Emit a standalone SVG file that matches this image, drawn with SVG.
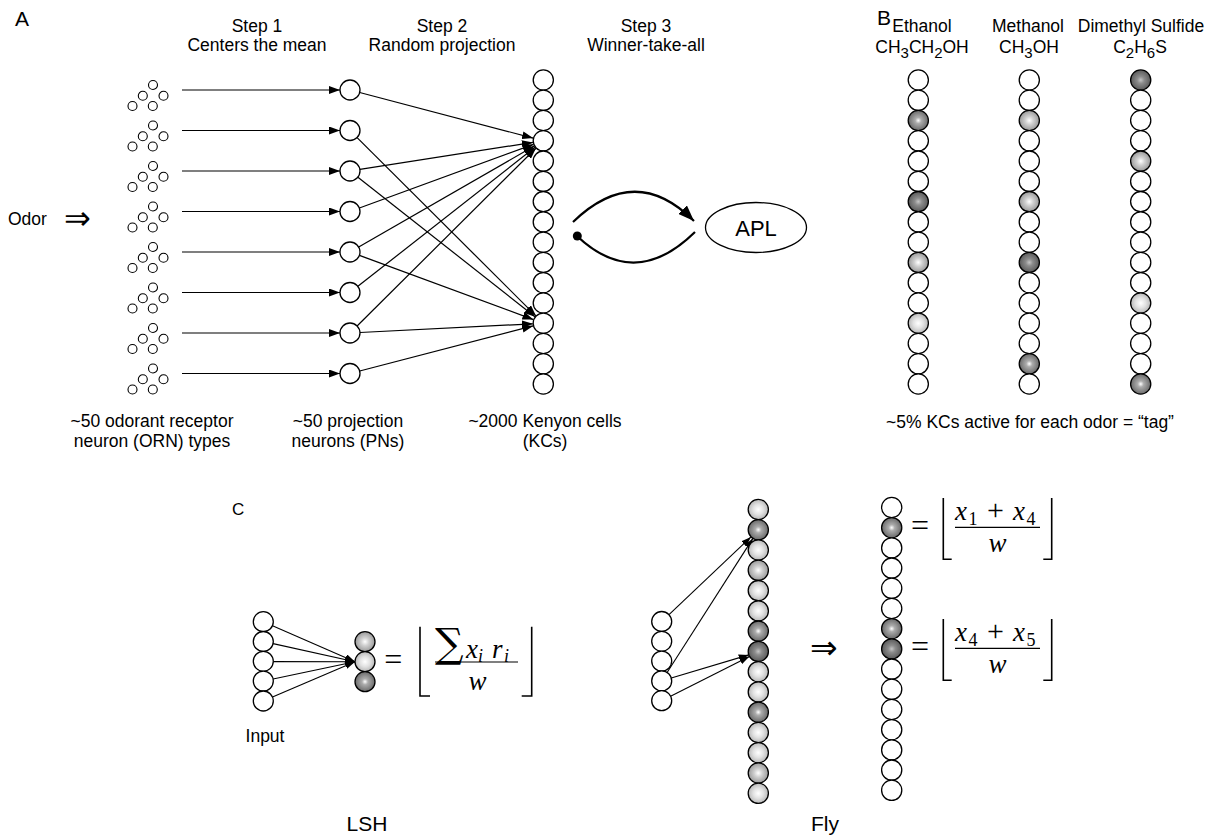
<svg xmlns="http://www.w3.org/2000/svg" width="1211" height="837" viewBox="0 0 1211 837">
<style>
.t{font-family:"Liberation Sans",Arial,sans-serif;font-size:17.5px;fill:#000}
.lbl{font-family:"Liberation Sans",Arial,sans-serif;font-size:21px;fill:#000}
.sym{font-family:"DejaVu Sans",sans-serif;fill:#000}
.m{font-family:"Liberation Serif","DejaVu Serif",serif;font-style:italic;font-size:27px;fill:#000}
.mr{font-family:"Liberation Serif","DejaVu Serif",serif;font-style:normal;fill:#000}
.c{fill:#fff;stroke:#000;stroke-width:1.3}
.s{fill:#fff;stroke:#000;stroke-width:1.1}
.gd{fill:url(#gDark)}
.gm{fill:url(#gMed)}
.gl{fill:url(#gLight)}
.gv{fill:url(#gVLight)}
.ln{stroke:#000;stroke-width:1.2;fill:none}
.br{stroke:#000;stroke-width:1.6;fill:none}
</style>
<defs>
<radialGradient id="gDark" cx="50%" cy="50%" r="50%"><stop offset="0" stop-color="#c4c4c4"/><stop offset="0.35" stop-color="#8c8c8c"/><stop offset="1" stop-color="#5a5a5a"/></radialGradient>
<radialGradient id="gMed" cx="50%" cy="50%" r="50%"><stop offset="0" stop-color="#ffffff"/><stop offset="0.3" stop-color="#acacac"/><stop offset="1" stop-color="#6a6a6a"/></radialGradient>
<radialGradient id="gLight" cx="50%" cy="50%" r="50%"><stop offset="0" stop-color="#ffffff"/><stop offset="0.4" stop-color="#d0d0d0"/><stop offset="1" stop-color="#9a9a9a"/></radialGradient>
<radialGradient id="gVLight" cx="50%" cy="50%" r="50%"><stop offset="0" stop-color="#ffffff"/><stop offset="0.5" stop-color="#e2e2e2"/><stop offset="1" stop-color="#b8b8b8"/></radialGradient>
<marker id="arr" markerUnits="userSpaceOnUse" markerWidth="11" markerHeight="8" viewBox="0 0 11 8" refX="11" refY="4" orient="auto"><path d="M0,0 L11,4 L0,8 z" fill="#000"/></marker>
<marker id="arrS" markerUnits="userSpaceOnUse" markerWidth="10" markerHeight="7" viewBox="0 0 10 7" refX="10" refY="3.5" orient="auto"><path d="M0,0 L10,3.5 L0,7 z" fill="#000"/></marker>
<marker id="arrB" markerUnits="userSpaceOnUse" markerWidth="16" markerHeight="12" viewBox="0 0 16 12" refX="16" refY="6" orient="auto"><path d="M0,0 L16,6 L0,12 z" fill="#000"/></marker>
<g id="orn">
<circle class="s" cx="153" cy="-5" r="4.5"/><circle class="s" cx="142.8" cy="5.7" r="4.5"/><circle class="s" cx="163.5" cy="5.7" r="4.5"/><circle class="s" cx="132.5" cy="16" r="4.5"/><circle class="s" cx="152.8" cy="16" r="4.5"/>
</g>
</defs>
<rect width="1211" height="837" fill="#fff"/>

<!-- Panel labels -->
<text class="lbl" x="15" y="26">A</text>
<text class="lbl" x="877" y="25">B</text>
<text class="lbl" x="232" y="515" style="font-size:17px">C</text>

<!-- Panel A texts -->
<g id="step-labels" class="t" text-anchor="middle">
<text x="257" y="32">Step 1</text><text x="257" y="51">Centers the mean</text>
<text x="442" y="32">Step 2</text><text x="442" y="51">Random projection</text>
<text x="646" y="32">Step 3</text><text x="646" y="51">Winner-take-all</text>
</g>
<g id="odor">
<text class="t" x="8" y="225">Odor</text>
<text class="sym" x="64" y="228.5" style="font-size:32px">⇒</text>
</g>

<!-- ORN clusters -->
<g id="orn-types">
<use href="#orn" y="90"/><use href="#orn" y="130.5"/><use href="#orn" y="171"/><use href="#orn" y="211.5"/>
<use href="#orn" y="252"/><use href="#orn" y="292.5"/><use href="#orn" y="333"/><use href="#orn" y="373.5"/>
</g>

<!-- Connectors -->
<g id="connectors">
<g class="ln" marker-end="url(#arr)">
<line x1="182" y1="90" x2="340" y2="90"/>
<line x1="182" y1="130.5" x2="340" y2="130.5"/>
<line x1="182" y1="171" x2="340" y2="171"/>
<line x1="182" y1="211.5" x2="340" y2="211.5"/>
<line x1="182" y1="252" x2="340" y2="252"/>
<line x1="182" y1="292.5" x2="340" y2="292.5"/>
<line x1="182" y1="333" x2="340" y2="333"/>
<line x1="182" y1="373.5" x2="340" y2="373.5"/>
<line x1="359.7" y1="92.5" x2="533.1" y2="138.1"/>
<line x1="359.9" y1="169.4" x2="532.9" y2="142.4"/>
<line x1="359.4" y1="208" x2="533.4" y2="144.4"/>
<line x1="358.7" y1="247" x2="534.2" y2="146.1"/>
<line x1="357.9" y1="286.3" x2="535" y2="147.3"/>
<line x1="357.1" y1="326" x2="535.9" y2="148.2"/>
<line x1="357.1" y1="137.6" x2="535.9" y2="315.8"/>
<line x1="357.9" y1="177.2" x2="535" y2="316.7"/>
<line x1="359.4" y1="255.4" x2="533.4" y2="319.6"/>
<line x1="360" y1="332.5" x2="532.8" y2="323.8"/>
<line x1="359.7" y1="371" x2="533.1" y2="325.9"/>
</g>
<path class="ln" style="stroke-width:2.2" d="M573,222 Q635,162 694,221" marker-end="url(#arrB)"/>
<path class="ln" style="stroke-width:2.2" d="M577,236 Q635,291 695,232"/>
<circle cx="577.3" cy="236" r="4.5" fill="#000"/>
<g class="ln" marker-end="url(#arrS)" style="stroke-width:1.1">
<line x1="272.5" y1="625.7" x2="355" y2="661.7"/>
<line x1="273.1" y1="643.6" x2="355" y2="661.7"/>
<line x1="273.3" y1="661.6" x2="355" y2="661.7"/>
<line x1="273.1" y1="679" x2="355" y2="661.7"/>
<line x1="272.5" y1="697.1" x2="355" y2="661.7"/>
</g>
<g class="ln" marker-end="url(#arrS)" style="stroke-width:1.1">
<line x1="669" y1="614.6" x2="751" y2="536.9"/>
<line x1="667.1" y1="672.5" x2="752.9" y2="538.4"/>
<line x1="671.3" y1="678" x2="748.7" y2="654.9"/>
<line x1="670.6" y1="696.2" x2="749.4" y2="656.5"/>
</g>
</g>

<!-- PNs -->
<g id="pns">
<g id="pn-1"><circle class="c" cx="350" cy="90" r="10"/></g>
<g id="pn-2"><circle class="c" cx="350" cy="130.5" r="10"/></g>
<g id="pn-3"><circle class="c" cx="350" cy="171" r="10"/></g>
<g id="pn-4"><circle class="c" cx="350" cy="211.5" r="10"/></g>
<g id="pn-5"><circle class="c" cx="350" cy="252" r="10"/></g>
<g id="pn-6"><circle class="c" cx="350" cy="292.5" r="10"/></g>
<g id="pn-7"><circle class="c" cx="350" cy="333" r="10"/></g>
<g id="pn-8"><circle class="c" cx="350" cy="373.5" r="10"/></g>
</g>

<!-- KC column A -->
<g id="kcs-a">
<circle class="c" cx="543.3" cy="80" r="10.1"/><circle class="c" cx="543.3" cy="100.3" r="10.1"/><circle class="c" cx="543.3" cy="120.5" r="10.1"/><circle class="c" cx="543.3" cy="140.8" r="10.1"/>
<circle class="c" cx="543.3" cy="161.1" r="10.1"/><circle class="c" cx="543.3" cy="181.4" r="10.1"/><circle class="c" cx="543.3" cy="201.6" r="10.1"/><circle class="c" cx="543.3" cy="221.9" r="10.1"/>
<circle class="c" cx="543.3" cy="242.2" r="10.1"/><circle class="c" cx="543.3" cy="262.4" r="10.1"/><circle class="c" cx="543.3" cy="282.7" r="10.1"/><circle class="c" cx="543.3" cy="303" r="10.1"/>
<circle class="c" cx="543.3" cy="323.2" r="10.1"/><circle class="c" cx="543.3" cy="343.5" r="10.1"/><circle class="c" cx="543.3" cy="363.8" r="10.1"/><circle class="c" cx="543.3" cy="384" r="10.1"/>
</g>

<g id="apl">
<ellipse cx="756" cy="227.5" rx="50.5" ry="25" fill="#fff" stroke="#000" stroke-width="1.3"/>
<text class="t" x="756" y="236" text-anchor="middle" style="font-size:22px">APL</text>
</g>

<g id="a-bottom-labels" class="t" text-anchor="middle">
<text x="152" y="427">~50 odorant receptor</text><text x="152" y="447">neuron (ORN) types</text>
<text x="348" y="427">~50 projection</text><text x="348" y="447">neurons (PNs)</text>
<text x="545" y="427">~2000 Kenyon cells</text><text x="545" y="447">(KCs)</text>
</g>

<!-- Panel B -->
<g id="b-labels" class="t" text-anchor="middle">
<text x="922" y="32">Ethanol</text>
<text x="922" y="53">CH<tspan dy="5" style="font-size:15px">3</tspan><tspan dy="-5">CH</tspan><tspan dy="5" style="font-size:15px">2</tspan><tspan dy="-5">OH</tspan></text>
<text x="1028" y="32">Methanol</text>
<text x="1029" y="53">CH<tspan dy="5" style="font-size:15px">3</tspan><tspan dy="-5">OH</tspan></text>
<text x="1141" y="32">Dimethyl Sulfide</text>
<text x="1140" y="53">C<tspan dy="5" style="font-size:15px">2</tspan><tspan dy="-5">H</tspan><tspan dy="5" style="font-size:15px">6</tspan><tspan dy="-5">S</tspan></text>
<text x="1030" y="428">~5% KCs active for each odor = “tag”</text>
</g>
<g id="ethanol-kcs">
<circle class="c" cx="918.3" cy="80" r="10.1"/><circle class="c" cx="918.3" cy="100.3" r="10.1"/><circle class="c gm" cx="918.3" cy="120.5" r="10.1"/><circle class="c" cx="918.3" cy="140.8" r="10.1"/>
<circle class="c" cx="918.3" cy="161.1" r="10.1"/><circle class="c" cx="918.3" cy="181.4" r="10.1"/><circle class="c gd" cx="918.3" cy="201.6" r="10.1"/><circle class="c" cx="918.3" cy="221.9" r="10.1"/>
<circle class="c" cx="918.3" cy="242.2" r="10.1"/><circle class="c gl" cx="918.3" cy="262.4" r="10.1"/><circle class="c" cx="918.3" cy="282.7" r="10.1"/><circle class="c" cx="918.3" cy="303" r="10.1"/>
<circle class="c gv" cx="918.3" cy="323.2" r="10.1"/><circle class="c" cx="918.3" cy="343.5" r="10.1"/><circle class="c" cx="918.3" cy="363.8" r="10.1"/><circle class="c" cx="918.3" cy="384" r="10.1"/>
</g>
<g id="methanol-kcs">
<circle class="c" cx="1029.3" cy="80" r="10.1"/><circle class="c" cx="1029.3" cy="100.3" r="10.1"/><circle class="c gl" cx="1029.3" cy="120.5" r="10.1"/><circle class="c" cx="1029.3" cy="140.8" r="10.1"/>
<circle class="c" cx="1029.3" cy="161.1" r="10.1"/><circle class="c" cx="1029.3" cy="181.4" r="10.1"/><circle class="c gl" cx="1029.3" cy="201.6" r="10.1"/><circle class="c" cx="1029.3" cy="221.9" r="10.1"/>
<circle class="c" cx="1029.3" cy="242.2" r="10.1"/><circle class="c gd" cx="1029.3" cy="262.4" r="10.1"/><circle class="c" cx="1029.3" cy="282.7" r="10.1"/><circle class="c" cx="1029.3" cy="303" r="10.1"/>
<circle class="c" cx="1029.3" cy="323.2" r="10.1"/><circle class="c" cx="1029.3" cy="343.5" r="10.1"/><circle class="c gm" cx="1029.3" cy="363.8" r="10.1"/><circle class="c" cx="1029.3" cy="384" r="10.1"/>
</g>
<g id="dms-kcs">
<circle class="c gd" cx="1140.7" cy="80" r="10.1"/><circle class="c" cx="1140.7" cy="100.3" r="10.1"/><circle class="c" cx="1140.7" cy="120.5" r="10.1"/><circle class="c" cx="1140.7" cy="140.8" r="10.1"/>
<circle class="c gl" cx="1140.7" cy="161.1" r="10.1"/><circle class="c" cx="1140.7" cy="181.4" r="10.1"/><circle class="c" cx="1140.7" cy="201.6" r="10.1"/><circle class="c" cx="1140.7" cy="221.9" r="10.1"/>
<circle class="c" cx="1140.7" cy="242.2" r="10.1"/><circle class="c" cx="1140.7" cy="262.4" r="10.1"/><circle class="c" cx="1140.7" cy="282.7" r="10.1"/><circle class="c gv" cx="1140.7" cy="303" r="10.1"/>
<circle class="c" cx="1140.7" cy="323.2" r="10.1"/><circle class="c" cx="1140.7" cy="343.5" r="10.1"/><circle class="c" cx="1140.7" cy="363.8" r="10.1"/><circle class="c gm" cx="1140.7" cy="384" r="10.1"/>
</g>

<!-- Panel C: LSH -->
<g id="lsh-input">
<circle class="c" cx="263.3" cy="621.7" r="10"/><circle class="c" cx="263.3" cy="641.5" r="10"/><circle class="c" cx="263.3" cy="661.3" r="10"/><circle class="c" cx="263.3" cy="681.1" r="10"/><circle class="c" cx="263.3" cy="701" r="10"/>
</g>
<g id="lsh-output">
<circle class="c gl" cx="365" cy="641.7" r="10"/><circle class="c gv" cx="365" cy="661.7" r="10"/><circle class="c gm" cx="365" cy="681.7" r="10"/>
</g>
<g id="lsh-eq">
<text class="mr" x="393.3" y="670" text-anchor="middle" style="font-size:32px">=</text>
<path class="br" d="M420,626.7 V696 H430 M531.7,626.7 V696 H521.7"/>
<line class="ln" x1="435" y1="662" x2="518" y2="662"/>
<text class="mr" x="435" y="657" style="font-family:'DejaVu Serif',serif;font-size:40px">∑</text>
<text class="m" y="658"><tspan x="466">x</tspan><tspan x="478" dy="4" style="font-size:18px">i</tspan><tspan x="492" dy="-4">r</tspan><tspan x="504" dy="4" style="font-size:18px">i</tspan></text>
<text class="m" x="477.5" y="690" text-anchor="middle">w</text>
</g>
<text class="t" x="265" y="742" text-anchor="middle">Input</text>
<text class="t" x="367" y="831" text-anchor="middle" style="font-size:21px">LSH</text>

<!-- Panel C: Fly -->
<g id="fly-input">
<circle class="c" cx="661.7" cy="621.5" r="10"/><circle class="c" cx="661.7" cy="641.3" r="10"/><circle class="c" cx="661.7" cy="661.1" r="10"/><circle class="c" cx="661.7" cy="680.9" r="10"/><circle class="c" cx="661.7" cy="700.7" r="10"/>
</g>
<g id="fly-kcs">
<circle class="c gv" cx="758.3" cy="509.5" r="10.1"/><circle class="c gm" cx="758.3" cy="529.8" r="10.1"/><circle class="c gv" cx="758.3" cy="550" r="10.1"/><circle class="c gl" cx="758.3" cy="570.3" r="10.1"/>
<circle class="c gv" cx="758.3" cy="590.6" r="10.1"/><circle class="c gv" cx="758.3" cy="610.9" r="10.1"/><circle class="c gm" cx="758.3" cy="631.1" r="10.1"/><circle class="c gd" cx="758.3" cy="651.4" r="10.1"/>
<circle class="c gv" cx="758.3" cy="671.7" r="10.1"/><circle class="c gv" cx="758.3" cy="691.9" r="10.1"/><circle class="c gm" cx="758.3" cy="712.2" r="10.1"/><circle class="c gv" cx="758.3" cy="732.5" r="10.1"/>
<circle class="c gv" cx="758.3" cy="752.7" r="10.1"/><circle class="c gl" cx="758.3" cy="773" r="10.1"/><circle class="c gv" cx="758.3" cy="793.3" r="10.1"/>
</g>
<text class="sym" x="810" y="659" style="font-size:33px">⇒</text>
<g id="fly-tag">
<circle class="c" cx="891.7" cy="507.5" r="10.1"/><circle class="c gm" cx="891.7" cy="527.7" r="10.1"/><circle class="c" cx="891.7" cy="547.9" r="10.1"/><circle class="c" cx="891.7" cy="568.1" r="10.1"/>
<circle class="c" cx="891.7" cy="588.3" r="10.1"/><circle class="c" cx="891.7" cy="608.5" r="10.1"/><circle class="c gm" cx="891.7" cy="628.7" r="10.1"/><circle class="c gd" cx="891.7" cy="648.9" r="10.1"/>
<circle class="c" cx="891.7" cy="669.1" r="10.1"/><circle class="c" cx="891.7" cy="689.3" r="10.1"/><circle class="c" cx="891.7" cy="709.5" r="10.1"/><circle class="c" cx="891.7" cy="729.7" r="10.1"/>
<circle class="c" cx="891.7" cy="749.9" r="10.1"/><circle class="c" cx="891.7" cy="770.1" r="10.1"/><circle class="c" cx="891.7" cy="790.3" r="10.1"/>
</g>
<g id="fly-eq1">
<text class="mr" x="920" y="536.3" text-anchor="middle" style="font-size:32px">=</text>
<path class="br" d="M943.3,498 V559.3 H951.7 M1051.7,498 V559.3 H1043.3"/>
<line class="ln" x1="955" y1="527.3" x2="1040" y2="527.3"/>
<text class="m" y="519.5"><tspan x="955">x</tspan><tspan x="968.5" dy="5" class="mr" style="font-size:18px">1</tspan><tspan x="987" dy="-5" class="mr" style="font-size:30px">+</tspan><tspan x="1013">x</tspan><tspan x="1026.5" dy="5" class="mr" style="font-size:18px">4</tspan></text>
<text class="m" x="997.5" y="551.7" text-anchor="middle">w</text>
</g>
<g id="fly-eq2">
<text class="mr" x="920" y="657.3" text-anchor="middle" style="font-size:32px">=</text>
<path class="br" d="M943.3,619 V680.3 H951.7 M1051.7,619 V680.3 H1043.3"/>
<line class="ln" x1="955" y1="648.3" x2="1040" y2="648.3"/>
<text class="m" y="640.5"><tspan x="955">x</tspan><tspan x="968.5" dy="5" class="mr" style="font-size:18px">4</tspan><tspan x="987" dy="-5" class="mr" style="font-size:30px">+</tspan><tspan x="1013">x</tspan><tspan x="1026.5" dy="5" class="mr" style="font-size:18px">5</tspan></text>
<text class="m" x="997.5" y="672.7" text-anchor="middle">w</text>
</g>
<text class="t" x="825" y="831" text-anchor="middle" style="font-size:21px">Fly</text>
</svg>
